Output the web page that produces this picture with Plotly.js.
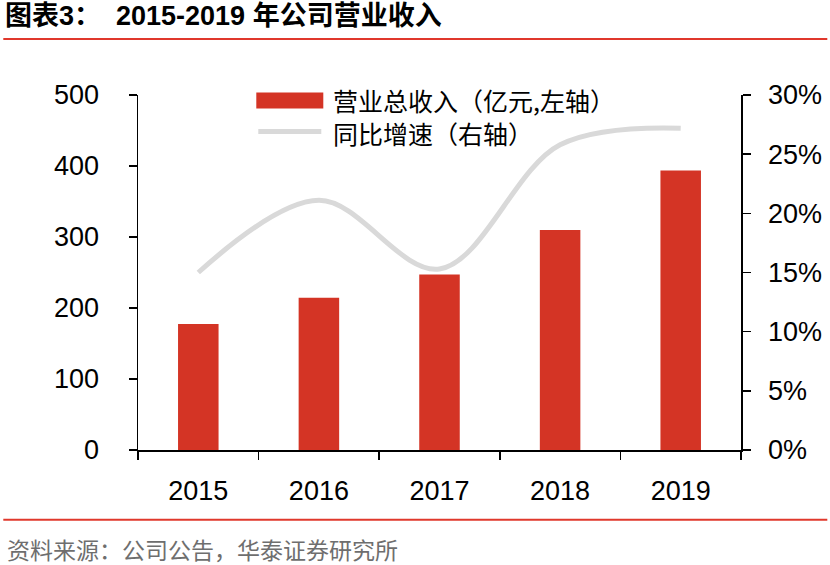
<!DOCTYPE html>
<html>
<head>
<meta charset="utf-8">
<script src="https://cdn.plot.ly/plotly-3.0.1.min.js"></script>
<style>
  html, body { margin: 0; padding: 0; background: #ffffff; }
  #chart { width: 830px; height: 565px; }
</style>
</head>
<body>
<div id="chart"></div>
<script>
// ---- data ----
const years = ['2015', '2016', '2017', '2018', '2019'];
const revenue = [177.5, 214.5, 247.3, 310.0, 393.8];          // 营业总收入（亿元）
const growth = [0.150, 0.211, 0.153, 0.258, 0.272];           // 同比增速
const leftTicks = [0, 100, 200, 300, 400, 500];
const rightTicks = [0, 0.05, 0.10, 0.15, 0.20, 0.25, 0.30];
const barName = '营业总收入（亿元,左轴）';
const lineName = '同比增速（右轴）';
const titleText = '图表3：  2015-2019 年公司营业收入';
const sourceText = '资料来源：公司公告，华泰证券研究所';

// ---- geometry helpers (pixel -> paper) ----
const W = 830, H = 565;
const L = 137.7, R = 740.7, T = 95, B = 450.3;
const px = x => (x - L) / (R - L);
const py = y => (B - y) / (B - T);

const barColor = '#D43425';
const lineColor = '#D9D9D9';
const redRule = '#E0382C';
const numFont = '"Liberation Sans", Arial, sans-serif';
const cjkFont = '"Noto Sans CJK SC", "Noto Sans", sans-serif';

const traces = [
  {
    type: 'bar', name: barName, x: years, y: revenue,
    marker: { color: barColor }, yaxis: 'y', showlegend: false,
    hoverinfo: 'x+y'
  },
  {
    type: 'scatter', mode: 'lines', name: lineName, x: years, y: growth,
    yaxis: 'y2', line: { color: lineColor, width: 5, shape: 'spline', smoothing: 1 },
    showlegend: false
  }
];

const axisCommon = {
  showgrid: false, zeroline: false, showline: true,
  linecolor: '#000', linewidth: 1.5,
  ticks: 'outside', ticklen: 8, tickwidth: 1.5, tickcolor: '#000',
  tickfont: { family: numFont, size: 27, color: '#000' }
};

const layout = {
  width: W, height: H,
  paper_bgcolor: '#fff', plot_bgcolor: '#fff',
  margin: { l: L, r: W - R, t: T, b: H - B, pad: 0 },
  bargap: 0.664,
  showlegend: false,
  title: {
    text: titleText,
    font: { family: '"Liberation Sans", Arial, "Noto Sans CJK SC", sans-serif', size: 27, color: '#000', weight: 'bold' },
    x: 5 / W, xref: 'container', xanchor: 'left',
    y: 1 - 16 / H, yref: 'container', yanchor: 'middle'
  },
  xaxis: Object.assign({}, axisCommon, {
    type: 'category', tickson: 'boundaries', ticklabelstandoff: 16,
    range: [-0.5, 4.5]
  }),
  yaxis: Object.assign({}, axisCommon, {
    range: [0, 500], tickvals: leftTicks, ticklabelstandoff: 24
  }),
  yaxis2: Object.assign({}, axisCommon, {
    overlaying: 'y', side: 'right', range: [0, 0.30],
    tickvals: rightTicks, tickformat: '.0%', ticklabelstandoff: 12
  }),
  shapes: [
    // title rule
    { type: 'line', xref: 'paper', yref: 'paper', x0: px(3), x1: px(827), y0: py(39), y1: py(39),
      line: { color: redRule, width: 2 } },
    // footer rule
    { type: 'line', xref: 'paper', yref: 'paper', x0: px(3), x1: px(827), y0: py(520), y1: py(520),
      line: { color: redRule, width: 2 } },
    // legend symbols
    { type: 'rect', xref: 'paper', yref: 'paper', x0: px(256), x1: px(323), y0: py(108.5), y1: py(92.5),
      fillcolor: barColor, line: { width: 0 } },
    { type: 'line', xref: 'paper', yref: 'paper', x0: px(258), x1: px(321), y0: py(131.5), y1: py(131.5),
      line: { color: lineColor, width: 5 } }
  ],
  annotations: [
    { text: barName, xref: 'paper', yref: 'paper', x: px(331), y: py(100), xanchor: 'left', yanchor: 'middle',
      showarrow: false, font: { family: cjkFont, size: 25, color: '#000' } },
    { text: lineName, xref: 'paper', yref: 'paper', x: px(331), y: py(133), xanchor: 'left', yanchor: 'middle',
      showarrow: false, font: { family: cjkFont, size: 25, color: '#000' } },
    { text: sourceText, xref: 'paper', yref: 'paper', x: px(6), y: py(549), xanchor: 'left', yanchor: 'middle',
      showarrow: false, borderpad: 0, font: { family: cjkFont, size: 23, color: '#6e6e6e' } }
  ]
};

Plotly.newPlot('chart', traces, layout, { displayModeBar: false, staticPlot: true });
</script>
</body>
</html>
